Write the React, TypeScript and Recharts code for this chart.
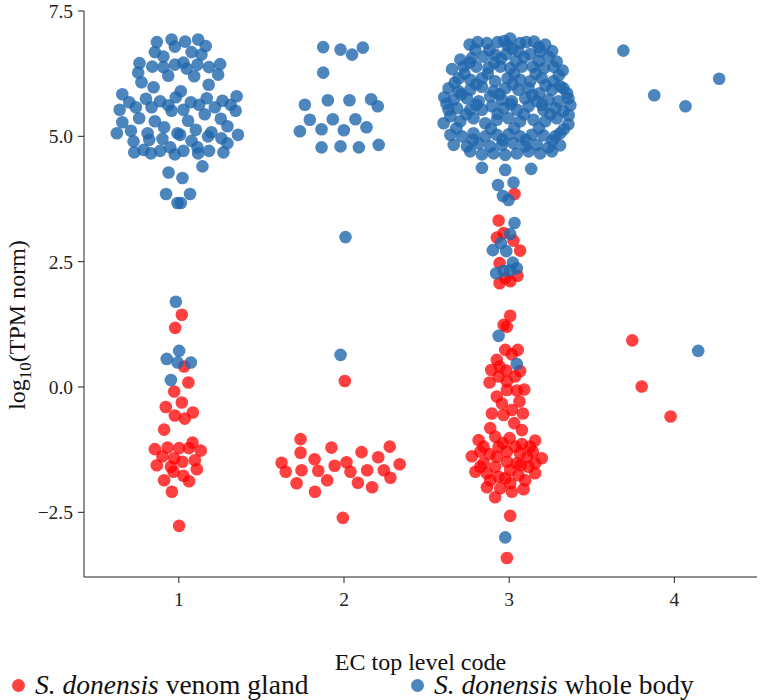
import React from "react";
import { ScatterChart, Scatter, XAxis, YAxis } from "recharts";

// swarm points: [offset from EC code, log10(TPM norm)]
const ec1Body = [
  [-0.133, 6.88], [-0.044, 6.93], [-0.024, 6.79], [0.038, 6.89], [0.117, 6.93], [0.163, 6.8],
  [-0.145, 6.68], [-0.093, 6.59], [0.077, 6.68], [0.137, 6.63], [-0.238, 6.46], [-0.246, 6.27],
  [-0.226, 6.08], [-0.161, 6.39], [-0.093, 6.38], [-0.064, 6.21], [-0.024, 6.43], [0.028, 6.47],
  [0.048, 6.35], [0.093, 6.2], [0.113, 6.43], [0.183, 6.38], [0.25, 6.44], [0.238, 6.23],
  [0.181, 6.03], [-0.153, 5.98], [-0.342, 5.84], [-0.3, 5.68], [-0.358, 5.53], [-0.342, 5.28],
  [-0.375, 5.06], [-0.26, 5.58], [-0.24, 5.36], [-0.199, 5.75], [-0.165, 5.58], [-0.113, 5.7],
  [-0.064, 5.62], [-0.044, 5.51], [-0.018, 5.78], [0.012, 5.9], [0.028, 5.53], [0.073, 5.68],
  [0.056, 5.31], [0.123, 5.63], [0.157, 5.44], [0.169, 5.76], [0.218, 5.58], [0.264, 5.71],
  [0.254, 5.35], [0.314, 5.63], [0.35, 5.8], [0.344, 5.51], [0.294, 5.2], [0.358, 5.03],
  [-0.29, 5.11], [-0.274, 4.9], [-0.27, 4.68], [-0.213, 4.73], [-0.189, 5.06], [-0.179, 4.93],
  [-0.169, 4.66], [-0.145, 5.3], [-0.113, 4.71], [-0.089, 5.18], [-0.099, 4.95], [-0.052, 4.78],
  [-0.024, 4.64], [-0.008, 5.06], [0.008, 5.03], [0.028, 4.71], [0.077, 4.91], [0.103, 5.13],
  [0.113, 4.78], [0.117, 4.66], [0.183, 4.71], [0.177, 5.0], [0.197, 5.08], [0.258, 4.96],
  [0.294, 4.86], [0.27, 4.68], [0.143, 4.4], [-0.062, 4.28], [0.022, 4.17], [-0.077, 3.85],
  [0.068, 3.85], [-0.008, 3.67], [0.012, 3.67],
  [-0.018, 1.7], [0.002, 0.72], [-0.073, 0.56], [-0.008, 0.49], [0.073, 0.49], [-0.048, 0.14],
];

const ec1Gland = [
  [0.018, 1.44], [-0.022, 1.18], [0.032, 0.41], [0.058, 0.09], [-0.028, -0.09], [0.018, -0.31],
  [-0.079, -0.4], [-0.024, -0.57], [0.036, -0.63], [0.085, -0.51], [-0.089, -0.85], [-0.145, -1.24],
  [-0.068, -1.21], [-0.099, -1.38], [0.002, -1.22], [-0.028, -1.42], [0.062, -1.22], [0.083, -1.11],
  [0.133, -1.27], [0.022, -1.49], [0.097, -1.46], [-0.133, -1.56], [-0.048, -1.59], [0.109, -1.64],
  [-0.032, -1.69], [0.028, -1.77], [-0.089, -1.86], [0.062, -1.88], [-0.042, -2.09], [0.002, -2.77],
];

const ec2Body = [
  [-0.126, 6.78], [-0.021, 6.73], [0.049, 6.63], [0.114, 6.77], [-0.126, 6.27], [-0.237, 5.63],
  [-0.098, 5.72], [0.033, 5.72], [0.164, 5.74], [0.204, 5.6], [-0.207, 5.33], [-0.068, 5.34],
  [0.069, 5.34], [-0.267, 5.1], [-0.136, 5.14], [-0.001, 5.12], [0.136, 5.18], [-0.136, 4.78],
  [-0.021, 4.8], [0.09, 4.78], [0.21, 4.83], [0.009, 2.99], [-0.021, 0.64],
];

const ec2Gland = [
  [0.005, 0.12], [-0.263, -1.04], [-0.263, -1.31], [-0.378, -1.51], [-0.353, -1.69], [-0.257, -1.66],
  [-0.287, -1.92], [-0.178, -1.44], [-0.156, -1.67], [-0.176, -2.09], [-0.102, -1.86], [-0.076, -1.21],
  [-0.057, -1.57], [0.015, -1.5], [0.039, -1.69], [0.084, -1.91], [0.106, -1.3], [0.14, -1.66],
  [0.17, -2.0], [0.207, -1.4], [0.241, -1.66], [0.277, -1.19], [0.281, -1.81], [0.337, -1.54],
  [-0.007, -2.61],
];

const ec3Body = [
  [-0.24, 6.83], [-0.191, 6.88], [-0.135, 6.86], [-0.07, 6.88], [0.006, 6.95], [-0.01, 6.81],
  [0.066, 6.86], [0.103, 6.88], [0.151, 6.89], [0.218, 6.83], [-0.03, 6.9], [0.18, 6.78],
  [-0.205, 6.73], [-0.296, 6.53], [-0.226, 6.56], [-0.155, 6.59], [-0.085, 6.63], [-0.018, 6.64],
  [0.056, 6.69], [0.127, 6.64], [0.187, 6.69], [0.238, 6.59], [0.288, 6.49], [-0.12, 6.72],
  [0.02, 6.74], [0.09, 6.58], [-0.05, 6.55], [0.26, 6.7],
  [-0.346, 6.34], [-0.276, 6.39], [-0.199, 6.39], [-0.125, 6.37], [-0.054, 6.39], [0.006, 6.36],
  [0.077, 6.39], [0.143, 6.39], [0.211, 6.36], [0.268, 6.39], [0.324, 6.31], [-0.24, 6.47],
  [-0.09, 6.47], [0.04, 6.5], [0.18, 6.5],
  [-0.306, 6.16], [-0.236, 6.13], [-0.165, 6.16], [-0.085, 6.1], [-0.01, 6.16], [0.066, 6.13],
  [0.127, 6.1], [0.197, 6.16], [0.268, 6.1], [0.308, 6.0], [-0.13, 6.25], [0.03, 6.25],
  [0.16, 6.25], [0.3, 6.22], [-0.27, 6.25],
  [-0.367, 5.96], [-0.306, 5.9], [-0.236, 5.93], [-0.165, 5.99], [-0.095, 5.9], [-0.024, 5.96],
  [0.056, 5.93], [0.117, 5.96], [0.183, 5.86], [0.258, 5.93], [0.328, 5.96], [-0.2, 6.04],
  [0.02, 6.04], [0.22, 6.02], [-0.33, 6.07],
  [-0.393, 5.78], [-0.336, 5.73], [-0.256, 5.76], [-0.185, 5.7], [-0.115, 5.8], [-0.044, 5.73],
  [0.016, 5.7], [0.097, 5.76], [0.167, 5.7], [0.238, 5.73], [0.298, 5.7], [0.358, 5.76],
  [-0.29, 5.84], [-0.06, 5.84], [0.14, 5.82], [0.35, 5.86],
  [-0.367, 5.53], [-0.316, 5.56], [-0.236, 5.53], [-0.165, 5.53], [-0.105, 5.6], [-0.034, 5.56],
  [0.046, 5.53], [0.117, 5.6], [0.207, 5.53], [0.278, 5.56], [0.328, 5.5], [-0.2, 5.63],
  [0.01, 5.64], [0.2, 5.63], [0.37, 5.62], [-0.38, 5.65],
  [-0.397, 5.26], [-0.356, 5.4], [-0.296, 5.3], [-0.216, 5.36], [-0.145, 5.26], [-0.075, 5.33],
  [-0.004, 5.36], [0.066, 5.3], [0.147, 5.33], [0.218, 5.3], [0.288, 5.36], [0.358, 5.24],
  [-0.26, 5.44], [-0.07, 5.45], [0.09, 5.44], [0.25, 5.44], [0.36, 5.42],
  [-0.356, 5.03], [-0.286, 5.0], [-0.216, 5.06], [-0.145, 5.0], [-0.075, 5.03], [-0.004, 5.04],
  [0.066, 5.0], [0.137, 5.03], [0.207, 5.02], [0.278, 5.0], [0.308, 5.06], [-0.32, 5.16],
  [-0.11, 5.15], [0.03, 5.16], [0.18, 5.16], [0.33, 5.14],
  [-0.336, 4.83], [-0.256, 4.8], [-0.185, 4.86], [-0.115, 4.8], [-0.044, 4.83], [0.026, 4.86],
  [0.097, 4.8], [0.167, 4.83], [0.238, 4.78], [0.308, 4.82], [-0.22, 4.93], [-0.04, 4.93],
  [0.1, 4.93], [0.26, 4.91],
  [-0.236, 4.7], [-0.165, 4.64], [-0.095, 4.66], [-0.024, 4.63], [0.046, 4.66], [0.117, 4.7],
  [0.187, 4.66], [0.258, 4.7],
  [-0.165, 4.37], [-0.024, 4.33], [0.133, 4.35],
  [-0.068, 4.03], [0.026, 4.08], [-0.038, 3.81], [-0.004, 3.73], [0.032, 3.27], [0.006, 3.05],
  [-0.099, 2.73], [-0.05, 2.87], [-0.018, 2.71], [0.022, 2.48], [0.046, 2.37], [-0.079, 2.27],
  [-0.034, 2.32], [0.006, 2.33], [-0.064, 1.02], [0.046, 0.46], [-0.024, -3.0],
];

const ec3Gland = [
  [0.032, 3.85], [-0.064, 3.32], [-0.075, 2.98], [-0.034, 3.07], [0.026, 2.92], [0.066, 2.72],
  [-0.058, 2.47], [0.05, 2.22], [-0.058, 2.07], [-0.024, 2.17], [0.006, 2.11], [0.006, 1.42],
  [-0.034, 1.24], [-0.014, 1.2], [-0.024, 0.74], [0.052, 0.74], [0.016, 0.65], [-0.075, 0.54],
  [-0.109, 0.34], [-0.058, 0.41], [-0.018, 0.33], [0.066, 0.32], [-0.119, 0.09], [-0.064, 0.21],
  [-0.014, 0.11], [0.036, 0.21], [-0.014, -0.06], [0.046, -0.07], [0.091, -0.05], [-0.075, -0.19],
  [-0.044, -0.33], [0.062, -0.29], [-0.105, -0.53], [-0.034, -0.56], [0.016, -0.46], [0.083, -0.53],
  [0.03, -0.72], [-0.115, -0.82], [0.077, -0.86], [-0.085, -0.99],
  [-0.185, -1.06], [-0.226, -1.38], [-0.205, -1.69], [-0.155, -1.19], [-0.119, -1.34], [-0.155, -1.52],
  [-0.135, -1.72], [-0.135, -2.0], [-0.085, -2.2], [-0.064, -1.19], [-0.075, -1.39], [-0.085, -1.59],
  [-0.064, -1.79], [-0.054, -2.02], [0.002, -1.02], [-0.014, -1.29], [-0.014, -1.49], [0.006, -1.66],
  [0.006, -1.92], [0.016, -2.09], [0.077, -1.14], [0.066, -1.32], [0.07, -1.56], [0.056, -1.76],
  [0.097, -1.86], [0.087, -2.04], [0.157, -1.07], [0.143, -1.29], [0.157, -1.52], [0.157, -1.72],
  [0.197, -1.42], [-0.175, -1.29], [-0.038, -1.12], [0.036, -1.19], [0.111, -1.39], [0.117, -1.59],
  [-0.175, -1.59], [-0.115, -1.86], [-0.024, -1.82], [0.046, -1.52], [0.127, -1.19],
  [0.006, -2.57], [-0.014, -3.41],
];

const ec4Body = [[-0.309, 6.71], [-0.122, 5.82], [0.067, 5.6], [0.271, 6.15], [0.144, 0.72]];
const ec4Gland = [[-0.255, 0.93], [-0.198, 0.01], [-0.023, -0.59]];

const xTicks = [1, 2, 3, 4];
const yTicks = [-2.5, 0, 2.5, 5, 7.5];

const RED = "#ff0000";
const BLUE = "#2166ac";
const FONT = "'Liberation Serif', serif";

const toPoints = (code: number, pairs: number[][]) =>
  pairs.map(([dx, y]) => ({ x: code + dx, y }));

const glandData = [
  ...toPoints(1, ec1Gland),
  ...toPoints(2, ec2Gland),
  ...toPoints(3, ec3Gland),
  ...toPoints(4, ec4Gland),
];
const bodyData = [
  ...toPoints(1, ec1Body),
  ...toPoints(2, ec2Body),
  ...toPoints(3, ec3Body),
  ...toPoints(4, ec4Body),
];

const dot = (color: string, opacity: number) => (props: any) =>
  <circle cx={props.cx} cy={props.cy} r={6.3} fill={color} fillOpacity={opacity} />;

const fmt = (v: number) => (v < 0 ? "\u2212" + Math.abs(v).toFixed(1) : v.toFixed(1));

const YLabel = () => (
  <text
    x={0}
    y={0}
    transform="translate(25, 325) rotate(-90)"
    textAnchor="middle"
    fontFamily={FONT}
    fontSize={24}
    fill="#111"
  >
    log
    <tspan fontSize={17} dy={6}>10</tspan>
    <tspan dy={-6}>(TPM norm)</tspan>
  </text>
);

const LegendItem = ({ color, label, left }: { color: string; label: string; left: number }) => (
  <div
    style={{
      position: "absolute",
      left,
      top: 0,
      display: "flex",
      alignItems: "center",
      whiteSpace: "nowrap",
    }}
  >
    <span
      style={{
        display: "inline-block",
        width: 13,
        height: 13,
        borderRadius: 7,
        background: color,
        marginRight: 10,
      }}
    />
    <span>
      <i>S. donensis</i> {label}
    </span>
  </div>
);

export default function App() {
  return (
    <div
      style={{
        position: "absolute",
        left: 0,
        top: 0,
        width: 775,
        height: 700,
        background: "#fff",
        fontFamily: FONT,
      }}
    >
      <ScatterChart width={775} height={700} margin={{ top: 11, right: 18, bottom: 0, left: 0 }}>
        <XAxis
          type="number"
          dataKey="x"
          domain={[0.426, 4.5]}
          ticks={xTicks}
          allowDataOverflow
          height={123}
          stroke="#222"
          tickSize={6}
          tickMargin={9}
          tick={{ fontSize: 19.5, fill: "#222", fontFamily: FONT }}
          label={{
            value: "EC top level code",
            position: "insideBottom",
            offset: 30,
            style: { fontSize: 24, fill: "#111", fontFamily: FONT },
          }}
        />
        <YAxis
          type="number"
          dataKey="y"
          domain={[-3.79, 7.5]}
          ticks={yTicks}
          allowDataOverflow
          width={84}
          stroke="#222"
          tickSize={6}
          tickMargin={5}
          tickFormatter={fmt}
          tick={{ fontSize: 19.5, fill: "#222", fontFamily: FONT }}
        />
        <Scatter data={glandData} shape={dot(RED, 0.75)} isAnimationActive={false} />
        <Scatter data={bodyData} shape={dot(BLUE, 0.8)} isAnimationActive={false} />
        <YLabel />
      </ScatterChart>
      <div
        style={{
          position: "absolute",
          left: 0,
          top: 670,
          width: 775,
          height: 30,
          fontSize: 27.5,
          lineHeight: "30px",
          color: "#111",
        }}
      >
        <LegendItem color="rgba(255,0,0,0.75)" label="venom gland" left={12} />
        <LegendItem color="rgba(33,102,172,0.8)" label="whole body" left={411} />
      </div>
    </div>
  );
}
